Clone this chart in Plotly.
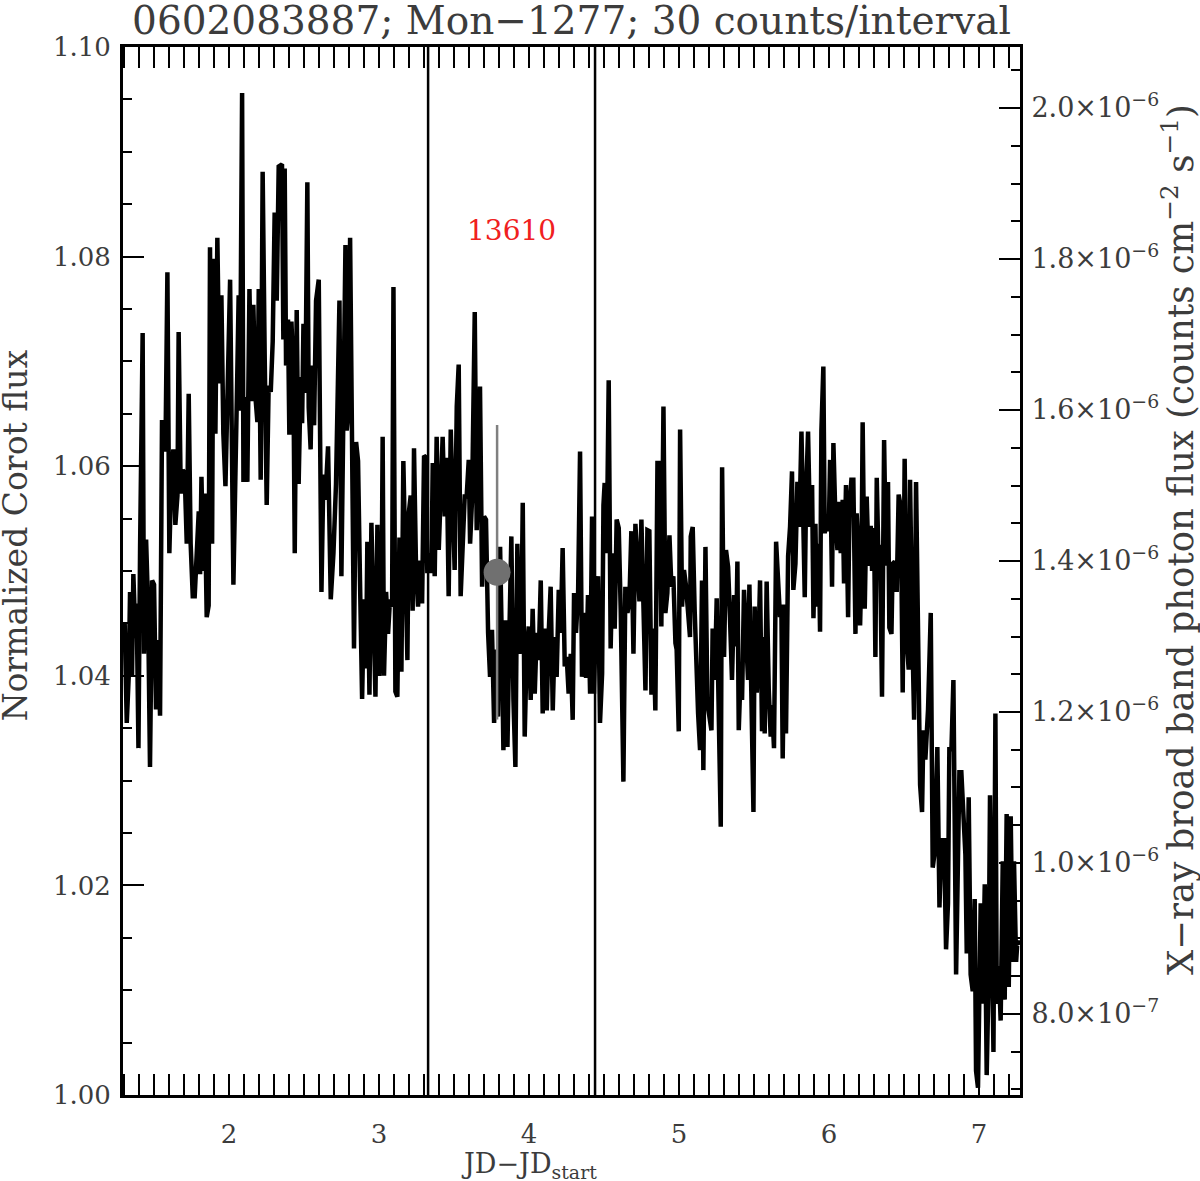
import plotly.graph_objects as go

# Settings
title = "0602083887; Mon\u22121277; 30 counts/interval"
font_family = "DejaVu Serif"
text_color = "#3c3c3c"

# CoRoT light curve (JD - JD_start, normalized flux)
jd = [
    1.291, 1.304, 1.318, 1.331, 1.340, 1.353, 1.362, 1.376, 1.384, 1.396,
    1.407, 1.424, 1.433, 1.447, 1.460, 1.473, 1.487, 1.500, 1.513, 1.527,
    1.540, 1.553, 1.567, 1.576, 1.589, 1.602, 1.616, 1.629, 1.642, 1.656,
    1.664, 1.678, 1.691, 1.704, 1.718, 1.731, 1.744, 1.758, 1.771, 1.784,
    1.798, 1.807, 1.816, 1.829, 1.838, 1.851, 1.864, 1.873, 1.887, 1.896,
    1.909, 1.922, 1.936, 1.949, 1.962, 1.976, 1.989, 2.007, 2.029, 2.042,
    2.056, 2.064, 2.073, 2.087, 2.096, 2.109, 2.122, 2.136, 2.149, 2.162,
    2.176, 2.189, 2.198, 2.211, 2.224, 2.238, 2.251, 2.264, 2.278, 2.291,
    2.304, 2.318, 2.331, 2.353, 2.362, 2.371, 2.380, 2.393, 2.402, 2.416,
    2.429, 2.438, 2.451, 2.464, 2.478, 2.487, 2.496, 2.509, 2.522, 2.531,
    2.544, 2.553, 2.567, 2.580, 2.598, 2.616, 2.629, 2.642, 2.660, 2.678,
    2.696, 2.713, 2.736, 2.749, 2.762, 2.776, 2.784, 2.798, 2.807, 2.820,
    2.833, 2.847, 2.860, 2.873, 2.887, 2.900, 2.913, 2.922, 2.936, 2.949,
    2.962, 2.976, 2.989, 3.002, 3.016, 3.024, 3.033, 3.047, 3.060, 3.073,
    3.087, 3.096, 3.109, 3.122, 3.136, 3.149, 3.162, 3.176, 3.189, 3.198,
    3.211, 3.224, 3.233, 3.247, 3.260, 3.273, 3.287, 3.300, 3.309, 3.322,
    3.336, 3.349, 3.358, 3.371, 3.384, 3.398, 3.411, 3.424, 3.438, 3.451,
    3.464, 3.478, 3.491, 3.504, 3.518, 3.531, 3.544, 3.558, 3.571, 3.584,
    3.598, 3.607, 3.620, 3.638, 3.651, 3.664, 3.673, 3.687, 3.700, 3.713,
    3.727, 3.740, 3.753, 3.767, 3.780, 3.793, 3.807, 3.820, 3.829, 3.842,
    3.856, 3.869, 3.882, 3.896, 3.909, 3.922, 3.936, 3.949, 3.958, 3.971,
    3.984, 3.998, 4.011, 4.024, 4.038, 4.051, 4.064, 4.078, 4.091, 4.104,
    4.118, 4.131, 4.144, 4.158, 4.171, 4.184, 4.198, 4.211, 4.224, 4.238,
    4.251, 4.264, 4.278, 4.291, 4.300, 4.313, 4.327, 4.340, 4.353, 4.367,
    4.380, 4.393, 4.407, 4.420, 4.433, 4.447, 4.460, 4.473, 4.487, 4.496,
    4.504, 4.518, 4.531, 4.544, 4.558, 4.571, 4.584, 4.598, 4.611, 4.629,
    4.642, 4.656, 4.669, 4.682, 4.696, 4.709, 4.722, 4.736, 4.749, 4.762,
    4.776, 4.789, 4.802, 4.816, 4.829, 4.842, 4.856, 4.869, 4.882, 4.896,
    4.909, 4.922, 4.936, 4.949, 4.962, 4.976, 4.984, 4.998, 5.007, 5.020,
    5.033, 5.047, 5.060, 5.073, 5.078, 5.091, 5.104, 5.113, 5.127, 5.140,
    5.153, 5.162, 5.176, 5.189, 5.202, 5.216, 5.224, 5.238, 5.251, 5.264,
    5.278, 5.287, 5.300, 5.313, 5.327, 5.340, 5.353, 5.367, 5.380, 5.389,
    5.398, 5.411, 5.420, 5.433, 5.447, 5.460, 5.469, 5.482, 5.496, 5.504,
    5.518, 5.527, 5.540, 5.553, 5.567, 5.571, 5.584, 5.598, 5.611, 5.620,
    5.633, 5.647, 5.660, 5.673, 5.682, 5.691, 5.704, 5.713, 5.727, 5.740,
    5.753, 5.762, 5.776, 5.789, 5.802, 5.816, 5.829, 5.838, 5.847, 5.860,
    5.873, 5.887, 5.896, 5.909, 5.918, 5.931, 5.940, 5.949, 5.962, 5.971,
    5.984, 5.998, 6.007, 6.020, 6.029, 6.042, 6.056, 6.064, 6.078, 6.091,
    6.100, 6.113, 6.127, 6.136, 6.149, 6.162, 6.176, 6.184, 6.198, 6.207,
    6.216, 6.224, 6.238, 6.251, 6.264, 6.278, 6.287, 6.300, 6.309, 6.318,
    6.331, 6.340, 6.353, 6.367, 6.380, 6.393, 6.402, 6.416, 6.424, 6.438,
    6.451, 6.464, 6.478, 6.491, 6.504, 6.518, 6.531, 6.540, 6.553, 6.567,
    6.580, 6.593, 6.607, 6.620, 6.629, 6.642, 6.660, 6.678, 6.691, 6.704,
    6.722, 6.736, 6.749, 6.767, 6.780, 6.793, 6.802, 6.816, 6.829, 6.847,
    6.860, 6.869, 6.882, 6.896, 6.909, 6.918, 6.931, 6.944, 6.958, 6.971,
    6.980, 6.993, 7.002, 7.011, 7.024, 7.038, 7.051, 7.064, 7.073, 7.087,
    7.096, 7.109, 7.118, 7.131, 7.144, 7.158, 7.171, 7.184, 7.198, 7.211,
    7.224, 7.233, 7.247, 7.256, 7.269,
]
corot_flux = [
    1.0432, 1.0451, 1.0355, 1.0399, 1.0480, 1.0399, 1.0497, 1.0436, 1.0469, 1.0331,
    1.0524, 1.0727, 1.0421, 1.0530, 1.0467, 1.0313, 1.0491, 1.0487, 1.0368, 1.0434,
    1.0362, 1.0642, 1.0642, 1.0614, 1.0785, 1.0517, 1.0596, 1.0616, 1.0544, 1.0572,
    1.0728, 1.0574, 1.0596, 1.0594, 1.0526, 1.0669, 1.0526, 1.0476, 1.0476, 1.0522,
    1.0557, 1.0497, 1.0590, 1.0500, 1.0574, 1.0456, 1.0467, 1.0809, 1.0526, 1.0798,
    1.0631, 1.0818, 1.0679, 1.0763, 1.0631, 1.0581, 1.0658, 1.0778, 1.0487, 1.0618,
    1.0697, 1.0763, 1.0653, 1.0956, 1.0585, 1.0666, 1.0585, 1.0769, 1.0662, 1.0754,
    1.0666, 1.0642, 1.0769, 1.0587, 1.0881, 1.0701, 1.0563, 1.0677, 1.0671, 1.0719,
    1.0842, 1.0758, 1.0886, 1.0888, 1.0721, 1.0884, 1.0696, 1.0740, 1.0630, 1.0738,
    1.0685, 1.0517, 1.0749, 1.0583, 1.0685, 1.0641, 1.0736, 1.0670, 1.0871, 1.0656,
    1.0616, 1.0696, 1.0639, 1.0758, 1.0778, 1.0480, 1.0592, 1.0568, 1.0619, 1.0473,
    1.0517, 1.0583, 1.0758, 1.0495, 1.0681, 1.0811, 1.0634, 1.0656, 1.0818, 1.0553,
    1.0426, 1.0623, 1.0605, 1.0491, 1.0378, 1.0473, 1.0407, 1.0528, 1.0382, 1.0546,
    1.0480, 1.0380, 1.0544, 1.0400, 1.0458, 1.0628, 1.0400, 1.0480, 1.0440, 1.0473,
    1.0466, 1.0771, 1.0385, 1.0380, 1.0532, 1.0404, 1.0605, 1.0506, 1.0415, 1.0555,
    1.0572, 1.0462, 1.0617, 1.0499, 1.0466, 1.0510, 1.0469, 1.0610, 1.0609, 1.0498,
    1.0517, 1.0498, 1.0603, 1.0495, 1.0628, 1.0520, 1.0593, 1.0628, 1.0552, 1.0608,
    1.0476, 1.0635, 1.0568, 1.0501, 1.0657, 1.0697, 1.0476, 1.0523, 1.0571, 1.0571,
    1.0606, 1.0526, 1.0568, 1.0747, 1.0539, 1.0619, 1.0676, 1.0485, 1.0552, 1.0549,
    1.0441, 1.0399, 1.0444, 1.0355, 1.0425, 1.0361, 1.0523, 1.0421, 1.0329, 1.0453,
    1.0332, 1.0441, 1.0533, 1.0377, 1.0313, 1.0526, 1.0421, 1.0453, 1.0565, 1.0342,
    1.0421, 1.0447, 1.0377, 1.0464, 1.0383, 1.0441, 1.0415, 1.0491, 1.0364, 1.0445,
    1.0367, 1.0441, 1.0485, 1.0367, 1.0437, 1.0399, 1.0482, 1.0441, 1.0522, 1.0409,
    1.0418, 1.0383, 1.0421, 1.0358, 1.0479, 1.0441, 1.0479, 1.0614, 1.0399, 1.0460,
    1.0398, 1.0477, 1.0383, 1.0552, 1.0383, 1.0469, 1.0495, 1.0355, 1.0402, 1.0563,
    1.0584, 1.0517, 1.0682, 1.0426, 1.0517, 1.0445, 1.0549, 1.0541, 1.0463, 1.0299,
    1.0485, 1.0460, 1.0472, 1.0538, 1.0421, 1.0545, 1.0517, 1.0471, 1.0549, 1.0472,
    1.0386, 1.0539, 1.0538, 1.0382, 1.0445, 1.0367, 1.0603, 1.0603, 1.0447, 1.0657,
    1.0460, 1.0479, 1.0534, 1.0485, 1.0495, 1.0431, 1.0425, 1.0347, 1.0635, 1.0466,
    1.0501, 1.0485, 1.0463, 1.0437, 1.0533, 1.0542, 1.0463, 1.0406, 1.0364, 1.0329,
    1.0491, 1.0310, 1.0523, 1.0374, 1.0364, 1.0348, 1.0445, 1.0396, 1.0474, 1.0364,
    1.0256, 1.0599, 1.0418, 1.0520, 1.0504, 1.0453, 1.0396, 1.0477, 1.0428, 1.0509,
    1.0348, 1.0405, 1.0377, 1.0482, 1.0434, 1.0396, 1.0487, 1.0384, 1.0270, 1.0466,
    1.0384, 1.0415, 1.0491, 1.0347, 1.0437, 1.0345, 1.0490, 1.0387, 1.0342, 1.0372,
    1.0331, 1.0528, 1.0495, 1.0456, 1.0468, 1.0321, 1.0468, 1.0345, 1.0514, 1.0542,
    1.0595, 1.0482, 1.0507, 1.0585, 1.0542, 1.0633, 1.0542, 1.0475, 1.0574, 1.0633,
    1.0542, 1.0582, 1.0455, 1.0545, 1.0466, 1.0526, 1.0442, 1.0634, 1.0695, 1.0536,
    1.0549, 1.0538, 1.0606, 1.0485, 1.0622, 1.0553, 1.0520, 1.0566, 1.0517, 1.0568,
    1.0488, 1.0582, 1.0456, 1.0560, 1.0587, 1.0587, 1.0440, 1.0555, 1.0514, 1.0448,
    1.0504, 1.0642, 1.0464, 1.0571, 1.0505, 1.0543, 1.0500, 1.0541, 1.0418, 1.0589,
    1.0500, 1.0525, 1.0380, 1.0625, 1.0505, 1.0585, 1.0446, 1.0440, 1.0507, 1.0509,
    1.0480, 1.0573, 1.0561, 1.0384, 1.0607, 1.0432, 1.0406, 1.0587, 1.0456, 1.0358,
    1.0585, 1.0396, 1.0296, 1.0270, 1.0348, 1.0320, 1.0368, 1.0460, 1.0217, 1.0231,
    1.0332, 1.0179, 1.0243, 1.0243, 1.0139, 1.0183, 1.0330, 1.0330, 1.0396, 1.0115,
    1.0243, 1.0308, 1.0308, 1.0272, 1.0229, 1.0135, 1.0284, 1.0115, 1.0099, 1.0187,
    1.0023, 1.0007, 1.0087, 1.0183, 1.0087, 1.0201, 1.0019, 1.0115, 1.0286, 1.0127,
    1.0041, 1.0364, 1.0087, 1.0123, 1.0071, 1.0223, 1.0091, 1.0268, 1.0103, 1.0266,
    1.0127, 1.0223, 1.0127, 1.0147, 1.0143,
]

# X-ray interval (obs 13610)
interval_bounds = [3.327, 4.440]
obs_label = "13610"
obs_label_x = 3.88
obs_label_y = 1.0825
xray_time = [3.787]
xray_flux = [1.385e-6]
xray_err = [0.195e-6]

# Axes
x_range = [1.293, 7.273]
x_ticks = [2, 3, 4, 5, 6, 7]
corot_range = [1.0, 1.1]
corot_ticks = [1.00, 1.02, 1.04, 1.06, 1.08, 1.10]
xray_range = [0.6927e-6, 2.0808e-6]
xray_ticks = [0.8e-6, 1.0e-6, 1.2e-6, 1.4e-6, 1.6e-6, 1.8e-6, 2.0e-6]
xray_ticklabels = ["8.0\u00d710<sup>\u22127</sup>", "1.0\u00d710<sup>\u22126</sup>",
                   "1.2\u00d710<sup>\u22126</sup>", "1.4\u00d710<sup>\u22126</sup>",
                   "1.6\u00d710<sup>\u22126</sup>", "1.8\u00d710<sup>\u22126</sup>",
                   "2.0\u00d710<sup>\u22126</sup>"]

tick_font = dict(family=font_family, size=26, color=text_color)

fig = go.Figure()

fig.add_trace(go.Scatter(x=jd, y=corot_flux, mode="lines",
                         line=dict(color="black", width=4.5),
                         showlegend=False, hoverinfo="x+y"))

fig.add_trace(go.Scatter(x=xray_time, y=xray_flux, yaxis="y2", mode="markers",
                         marker=dict(color="#707070", size=27),
                         error_y=dict(type="data", array=xray_err, color="#808080",
                                      thickness=2.5, width=0),
                         showlegend=False))

for xb in interval_bounds:
    fig.add_shape(type="line", xref="x", yref="paper", x0=xb, x1=xb, y0=0, y1=1,
                  line=dict(color="black", width=2.5), layer="below")

axis_common = dict(showline=True, linecolor="black", linewidth=3, showgrid=False,
                   zeroline=False, ticks="inside", ticklen=21, tickwidth=2,
                   tickcolor="black")

fig.update_layout(
    width=1200, height=1181,
    paper_bgcolor="white", plot_bgcolor="white",
    margin=dict(l=123, r=180, t=47, b=86, autoexpand=False),
    title=dict(text=title, x=0.5, xref="paper", xanchor="center",
               y=1 - 20 / 1181, yref="container", yanchor="middle",
               font=dict(family=font_family, size=39, color=text_color)),
    xaxis=dict(range=x_range, tickmode="array", tickvals=x_ticks,
               mirror="allticks", ticklabelstandoff=14, tickfont=tick_font,
               minor=dict(dtick=0.1, tick0=0, ticks="inside", ticklen=8,
                          tickwidth=2, tickcolor="black"),
               **axis_common),
    yaxis=dict(range=corot_range, tickmode="array", tickvals=corot_ticks,
               ticktext=[f"{v:.2f}" for v in corot_ticks], mirror=True,
               ticklabelstandoff=4, tickfont=tick_font,
               minor=dict(dtick=0.005, tick0=1.0, ticks="inside", ticklen=9,
                          tickwidth=2, tickcolor="black"),
               **axis_common),
    yaxis2=dict(range=xray_range, overlaying="y", side="right", anchor="x",
                tickmode="array", tickvals=xray_ticks, ticktext=xray_ticklabels,
                ticklabelstandoff=3,
                tickfont=dict(family=font_family, size=27, color=text_color),
                minor=dict(dtick=0.05e-6, tick0=0, ticks="inside", ticklen=9,
                           tickwidth=2, tickcolor="black"),
                **axis_common),
    annotations=[
        dict(text="Normalized Corot flux", xref="paper", yref="paper",
             x=(15 - 123) / 897, y=0.534, textangle=-90, showarrow=False,
             xanchor="center", yanchor="middle",
             font=dict(family=font_family, size=33, color=text_color)),
        dict(text="X\u2212ray broad band photon flux (counts cm<sup>\u22122</sup> s<sup>\u22121</sup>)",
             xref="paper", yref="paper", x=(1178 - 123) / 897, y=0.5296,
             textangle=-90, showarrow=False, xanchor="center", yanchor="middle",
             font=dict(family=font_family, size=35.5, color=text_color)),
        dict(text="JD\u2212JD<sub>start</sub>", xref="paper", yref="paper",
             x=(529 - 123) / 897, y=(1095 - 1165) / 1048, showarrow=False,
             xanchor="center", yanchor="middle",
             font=dict(family=font_family, size=27, color=text_color)),
        dict(text=obs_label, x=obs_label_x, y=obs_label_y, xref="x", yref="y",
             showarrow=False, xanchor="center", yanchor="middle",
             font=dict(family=font_family, size=28, color="#f02020")),
    ],
)

# drop the default page margin so the figure sits at the window's corner
fig.write_html("out.html", config={"displayModeBar": False},
               post_script="document.body.style.margin = '0px';")
